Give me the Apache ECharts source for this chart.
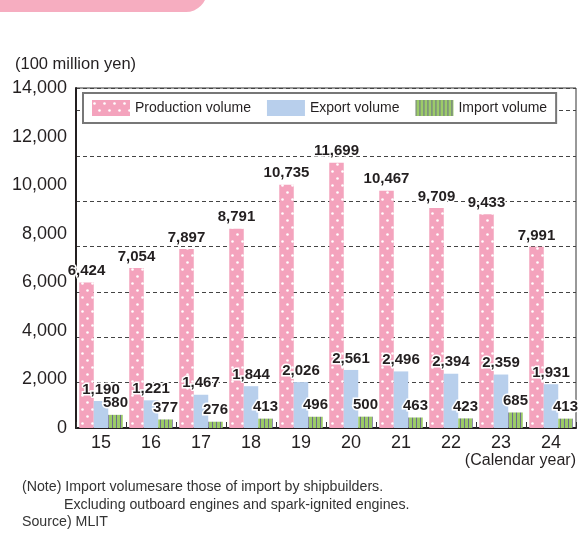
<!DOCTYPE html>
<html>
<head>
<meta charset="utf-8">
<script src="https://cdn.jsdelivr.net/npm/echarts@6/dist/echarts.min.js"></script>
<style>
  html, body { margin: 0; padding: 0; background: #fff; }
  #chart { width: 584px; height: 534px; }
</style>
</head>
<body>
<div id="chart"></div>
<script>
const years = ['15', '16', '17', '18', '19', '20', '21', '22', '23', '24'];
const production = [6424, 7054, 7897, 8791, 10735, 11699, 10467, 9709, 9433, 7991];
const exportVol = [1190, 1221, 1467, 1844, 2026, 2561, 2496, 2394, 2359, 1931];
const importVol = [580, 377, 276, 413, 496, 500, 463, 423, 685, 413];
const yTicks = [0, 2000, 4000, 6000, 8000, 10000, 12000, 14000];

const ink = '#231f20';
const font = '"Liberation Sans", Arial, sans-serif';

// dotted pink pattern
function dotPattern() {
    const c = document.createElement('canvas');
    c.width = 10; c.height = 14;
    const g = c.getContext('2d');
    g.fillStyle = '#f4a3bd';
    g.fillRect(0, 0, 10, 14);
    g.fillStyle = '#fff';
    [[2.5, 3.5], [7.5, 10.5]].forEach(function (p) {
        g.beginPath();
        g.arc(p[0], p[1], 1.3, 0, Math.PI * 2);
        g.fill();
    });
    return c;
}

// green with vertical dark stripes
function stripePattern() {
    const c = document.createElement('canvas');
    c.width = 4; c.height = 4;
    const g = c.getContext('2d');
    g.fillStyle = '#9ccb68';
    g.fillRect(0, 0, 4, 4);
    g.fillStyle = '#6b6b8c';
    g.fillRect(0, 0, 1, 4);
    return c;
}

const fmt = function (v) { return Number(v).toLocaleString('en-US'); };

const barLabel = {
    show: true,
    position: 'top',
    distance: 4,
    formatter: function (p) { return fmt(p.value); },
    fontFamily: font,
    fontSize: 15,
    fontWeight: 'bold',
    color: ink,
    textBorderColor: '#fff',
    textBorderWidth: 3
};

const chart = echarts.init(document.getElementById('chart'));

chart.setOption({
    animation: false,
    backgroundColor: '#fff',
    textStyle: { fontFamily: font },
    graphic: [
        {
            type: 'rect',
            shape: { x: -20, y: -30, width: 227, height: 42, r: 22 },
            style: { fill: '#f6adc0' }
        },
        {
            type: 'text', left: 15, top: 56,
            style: { text: '(100 million yen)', font: '16.5px ' + font, fill: ink }
        },
        {
            type: 'text', right: 8, top: 453,
            style: { text: '(Calendar year)', font: '16px ' + font, fill: ink }
        },
        {
            type: 'text', left: 22, top: 480,
            style: { text: '(Note) Import volumesare those of import by shipbuilders.', font: '14.2px ' + font, fill: '#333' }
        },
        {
            type: 'text', left: 64, top: 498,
            style: { text: 'Excluding outboard engines and spark-ignited engines.', font: '14.2px ' + font, fill: '#333' }
        },
        {
            type: 'text', left: 22, top: 515,
            style: { text: 'Source) MLIT', font: '14.2px ' + font, fill: '#333' }
        }
    ],
    legend: {
        left: 83,
        top: 93,
        padding: [7, 9],
        itemWidth: 38,
        itemHeight: 16,
        itemGap: 16,
        icon: 'rect',
        backgroundColor: '#fff',
        borderColor: '#777',
        borderWidth: 2,
        textStyle: { fontSize: 14, color: ink, fontFamily: font },
        data: ['Production volume', 'Export volume', 'Import volume']
    },
    grid: {
        left: 76, right: 8, top: 88, bottom: 106,
        show: true, borderColor: '#333', borderWidth: 1
    },
    xAxis: {
        type: 'category',
        data: years,
        axisLine: { lineStyle: { color: ink, width: 2 } },
        axisTick: { show: true, inside: true, length: 6, lineStyle: { color: '#333' } },
        axisLabel: { fontSize: 18, color: ink, margin: 6, fontFamily: font }
    },
    yAxis: [
        {
            // tick label axis
            type: 'value',
            min: yTicks[0],
            max: yTicks[yTicks.length - 1],
            interval: 2000,
            axisLine: { show: true, lineStyle: { color: ink, width: 2 } },
            axisTick: { show: false },
            splitLine: { show: false },
            axisLabel: { fontSize: 18, color: ink, margin: 9, fontFamily: font, formatter: fmt }
        },
        {
            // data axis
            type: 'value',
            min: 0,
            max: 15000,
            interval: 2000,
            position: 'left',
            axisLine: { show: false },
            axisTick: { show: false },
            axisLabel: { show: false },
            splitLine: { show: true, lineStyle: { color: '#444', type: [4, 3], width: 1 } }
        }
    ],
    series: [
        {
            name: 'Production volume',
            type: 'bar',
            yAxisIndex: 1,
            barWidth: 14.5,
            barGap: '0%',
            data: production,
            itemStyle: { color: { image: dotPattern(), repeat: 'repeat' } },
            label: barLabel
        },
        {
            name: 'Export volume',
            type: 'bar',
            yAxisIndex: 1,
            barWidth: 14.5,
            barGap: '0%',
            data: exportVol,
            itemStyle: { color: '#b8cfec' },
            label: barLabel
        },
        {
            name: 'Import volume',
            type: 'bar',
            yAxisIndex: 1,
            barWidth: 14.5,
            barGap: '0%',
            data: importVol,
            itemStyle: { color: { image: stripePattern(), repeat: 'repeat' } },
            label: barLabel
        }
    ]
});
</script>
</body>
</html>
